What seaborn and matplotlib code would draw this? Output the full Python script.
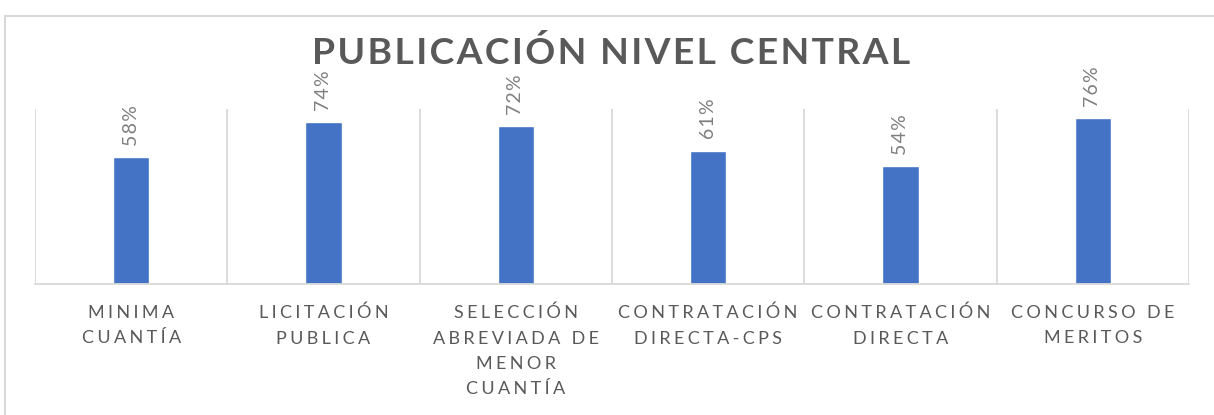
import pandas as pd
import matplotlib.pyplot as plt
import seaborn as sns
from matplotlib.patches import Rectangle

categorias = ['MINIMA\nCUANTÍA', 'LICITACIÓN\nPUBLICA', 'SELECCIÓN\nABREVIADA DE\nMENOR\nCUANTÍA',
              'CONTRATACIÓN\nDIRECTA-CPS', 'CONTRATACIÓN\nDIRECTA', 'CONCURSO DE\nMERITOS']
valores = [0.58, 0.74, 0.72, 0.61, 0.54, 0.76]
titulo = 'PUBLICACIÓN NIVEL CENTRAL'


def espaciar(texto, sep='\u200a'):
    # Excel-like letter spacing
    return '\n'.join(sep.join(linea) for linea in texto.split('\n'))


sns.set_style('white')
plt.rcParams['font.family'] = ['Lato', 'DejaVu Sans']

df = pd.DataFrame({'cat': [espaciar(c, '\u2009\u200a') for c in categorias], 'val': valores})

fig = plt.figure(figsize=(12.14, 4.15), dpi=100)
ax = fig.add_axes([35 / 1214, 1 - 284 / 415, 1154 / 1214, 175 / 415])

sns.barplot(data=df, x='cat', y='val', color='#4472C4', width=0.19, saturation=1, ax=ax)

ax.set_ylim(0, 0.8)
ax.set_xlim(-0.5, len(valores) - 0.5)
ax.set_xlabel('')
ax.set_ylabel('')
ax.set_yticks([])
for s in ['top', 'right', 'left']:
    ax.spines[s].set_visible(False)
ax.spines['bottom'].set_color('#d9d9d9')
ax.spines['bottom'].set_linewidth(1.3)

ax.set_xticks([i - 0.5 for i in range(len(valores) + 1)], minor=True)
ax.grid(which='minor', axis='x', color='#d9d9d9', linewidth=1.3)
ax.tick_params(axis='x', which='both', length=0, pad=15, labelsize=13, labelcolor='#595959')
for lab in ax.get_xticklabels():
    lab.set_linespacing(1.72)

ax.bar_label(ax.containers[0], labels=[espaciar(f'{v*100:.0f}%') for v in valores],
             rotation=90, padding=8, fontsize=14, color='#7f7f7f')

fig.text(0.503, 0.872, espaciar(titulo), ha='center', va='center',
         fontsize=26.8, fontweight='bold', color='#595959')

fig.patches.append(Rectangle((5 / 1214, -0.1), 1.2, 1.1 - 16 / 415, transform=fig.transFigure,
                             fill=False, edgecolor='#d9d9d9', linewidth=1.5))

fig.savefig('out.png', dpi=100)
